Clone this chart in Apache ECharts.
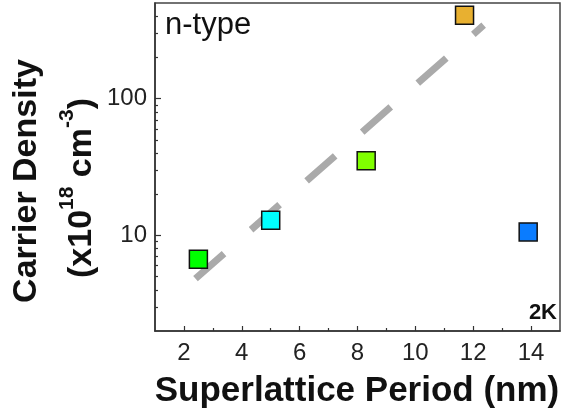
<!DOCTYPE html>
<html>
<head>
<meta charset="utf-8">
<script src="https://cdn.jsdelivr.net/npm/echarts@6/dist/echarts.min.js"></script>
<style>
html,body{margin:0;padding:0;background:#fff;}
#chart{width:562px;height:419px;}
</style>
</head>
<body>
<div id="chart"></div>
<script>
// ---- data ----
var periods = [2.5, 5.0, 8.3, 11.7, 13.9];
var densities = [6.7, 12.9, 35.2, 407, 10.6];
var fitPeriods = [2.4, 12.36];
var fitDensities = [4.83, 344];
var xTickLabels = [2, 4, 6, 8, 10, 12, 14];
var xMinorTicks = [3, 5, 7, 9, 11, 13];
var yTickLabels = [10, 100];
var yMinorTicks = [3, 4, 5, 6, 7, 8, 9, 20, 30, 40, 50, 60, 70, 80, 90, 200, 300, 400];

// ---- styles ----
var pointColors = ['#00ff00', '#00ffff', '#80ff00', '#e8b030', '#0a7cff'];
var FONT = "'Liberation Sans', Arial, sans-serif";

var chart = echarts.init(document.getElementById('chart'), null, {renderer: 'canvas'});

var scatterData = periods.map(function (p, i) {
  return {value: [p, densities[i]], itemStyle: {color: pointColors[i]}};
});
var fitData = fitPeriods.map(function (p, i) { return [p, fitDensities[i]]; });

var option = {
  animation: false,
  backgroundColor: '#fff',
  grid: {left: 155, right: 2, top: 3, bottom: 88, show: true, borderColor: '#444', borderWidth: 1.5, backgroundColor: 'transparent'},
  xAxis: [{
    type: 'value', min: 1, max: 15, interval: 1,
    axisLine: {show: true, lineStyle: {color: '#333', width: 1.5}},
    axisTick: {show: true, inside: true, length: 5, customValues: xTickLabels, lineStyle: {color: '#333', width: 1.2}},
    axisLabel: {show: true, customValues: xTickLabels, fontSize: 24, color: '#222', fontFamily: FONT, margin: 10},
    splitLine: {show: false}
  }, {
    type: 'value', min: 1, max: 15, position: 'bottom', gridIndex: 0,
    axisLine: {show: true, lineStyle: {color: '#333', width: 1.5, opacity: 0}},
    axisTick: {show: true, inside: true, length: 3, customValues: xMinorTicks, lineStyle: {color: '#333', width: 1.2}},
    axisLabel: {show: false},
    splitLine: {show: false}
  }],
  yAxis: [{
    type: 'log', logBase: 10, min: 2, max: 500,
    axisLine: {show: true, lineStyle: {color: '#333', width: 1.5}},
    axisTick: {show: true, inside: true, length: 6, customValues: yTickLabels, lineStyle: {color: '#333', width: 1.2}},
    axisLabel: {show: true, customValues: yTickLabels, fontSize: 24, color: '#222', fontFamily: FONT, margin: 8},
    splitLine: {show: false}
  }, {
    type: 'log', logBase: 10, min: 2, max: 500, position: 'left',
    axisLine: {show: true, lineStyle: {color: '#333', width: 1.5, opacity: 0}},
    axisTick: {show: true, inside: true, length: 3, customValues: yMinorTicks, lineStyle: {color: '#333', width: 1.2}},
    axisLabel: {show: false},
    splitLine: {show: false}
  }],
  series: [{
    type: 'line',
    data: fitData,
    symbol: 'none',
    silent: true,
    z: 1,
    lineStyle: {color: '#aaaaaa', width: 7, type: [38, 36], cap: 'butt'}
  }, {
    type: 'scatter',
    data: scatterData,
    symbol: 'rect',
    symbolSize: 18,
    z: 3,
    itemStyle: {borderColor: '#111', borderWidth: 1.5, opacity: 1}
  }],
  graphic: [
    {type: 'text', left: 165, top: 10, style: {text: 'n-type', font: '31px ' + FONT, fill: '#111'}},
    {type: 'text', right: 5, top: 302, style: {text: '2K', font: 'bold 22px ' + FONT, fill: '#111'}},
    {type: 'text', x: 357, y: 391, style: {text: 'Superlattice Period (nm)', font: 'bold 35px ' + FONT, fill: '#111', align: 'center', verticalAlign: 'middle'}},
    {type: 'text', x: 27, y: 181, rotation: Math.PI / 2, style: {text: 'Carrier Density', font: 'bold 34px ' + FONT, fill: '#111', align: 'center', verticalAlign: 'middle'}},
    {type: 'text', x: 78, y: 188, rotation: Math.PI / 2, style: {
      text: '{t|(x10}{s|18}{t| cm}{s|-3}{t|)}',
      align: 'center', verticalAlign: 'middle',
      rich: {
        t: {font: 'bold 34px ' + FONT, fill: '#111', lineHeight: 42, verticalAlign: 'bottom'},
        s: {font: 'bold 21px ' + FONT, fill: '#111', lineHeight: 20, verticalAlign: 'top'}
      }
    }}
  ]
};
chart.setOption(option);
</script>
</body>
</html>
